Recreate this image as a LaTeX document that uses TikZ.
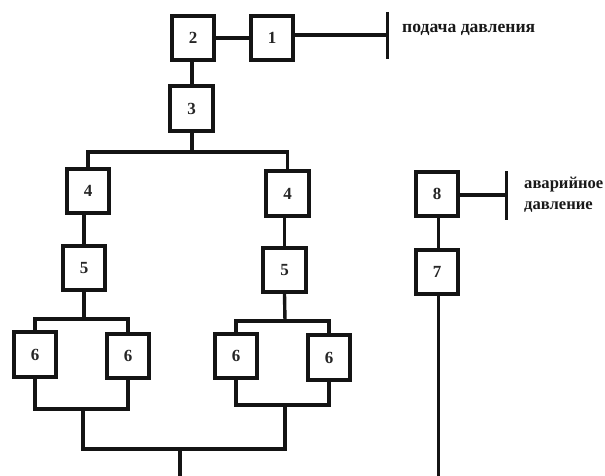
\documentclass[tikz,border=0pt]{standalone}
\usepackage{fontspec}
\setmainfont{Liberation Serif}
\begin{document}
\begin{tikzpicture}[x=1pt,y=-1pt,
  wire/.style={line width=3.4pt,line cap=butt,line join=miter,draw=black!92},
  blk/.style={draw=black!92,line width=3.7pt,fill=white,minimum width=42.5pt,minimum height=44.5pt,inner sep=0pt,font=\bfseries\fontsize{17}{17}\selectfont,text=black!85},
  lbl/.style={text=black!90,anchor=west,inner sep=0pt,align=left}]
\useasboundingbox (0,0) rectangle (605,476);
% blocks
\node[blk] (b2) at (193,38) {2};
\node[blk] (b1) at (272,38) {1};
\node[blk] (b3) at (191.5,108.5) {3};
\node[blk] (l4) at (88,191) {4};
\node[blk] (r4) at (287.5,193.5) {4};
\node[blk] (l5) at (84,268) {5};
\node[blk] (r5) at (284.5,270) {5};
\node[blk] (l6a) at (35,354.5) {6};
\node[blk] (l6b) at (128,356) {6};
\node[blk] (r6a) at (236,356) {6};
\node[blk] (r6b) at (329,357.5) {6};
\node[blk] (b8) at (437,194) {8};
\node[blk] (b7) at (437,272) {7};
% free ends and junctions
\coordinate (pa) at (387.5,12);
\coordinate (pb) at (387.5,59);
\coordinate (pm) at (387.5,35);
\coordinate (qa) at (506.5,171);
\coordinate (qb) at (506.5,220);
\coordinate (qm) at (506.5,195);
\coordinate (j3) at (192,152);
\coordinate (jl) at (84,319);
\coordinate (jr) at (285,321);
\coordinate (kl) at (83,409);
\coordinate (kr) at (285,405);
\coordinate (m) at (180,449);
\coordinate (e1) at (180,476);
\coordinate (e2) at (438.5,476);
% connectors
\draw[wire] (b2.east) -- (b1.west);
\draw[wire] (b1.east |- pm) -- (pm);
\draw[wire] (pa) -- (pb);
\draw[wire] (192,62) -- (192,85);
\draw[wire] (192,132) -- (j3);
\draw[wire] (l4.north) |- (j3) -| (r4.north);
\draw[wire] (l4.south -| l5) -- (l5.north);
\draw[wire] (r4.south -| r5) -- (r5.north);
\draw[wire] (l5.south) -- (jl);
\draw[wire] (r5.south) -- (jr);
\draw[wire] (l6a.north) |- (jl) -| (l6b.north);
\draw[wire] (r6a.north) |- (jr) -| (r6b.north);
\draw[wire] (l6a.south) |- (kl) -| (l6b.south);
\draw[wire] (r6a.south) |- (kr) -| (r6b.south);
\draw[wire] (kl) |- (m) -| (kr);
\draw[wire] (m) -- (e1);
\draw[wire] (b8.east |- qm) -- (qm);
\draw[wire] (qa) -- (qb);
\draw[wire] (438.5,217) -- (438.5,250);
\draw[wire] (438.5,295) -- (e2);
% labels
\node[lbl,font=\bfseries\fontsize{17.6}{20}\selectfont] (t1) at (402,30) {подача давления};
\node[lbl,font=\bfseries\fontsize{16.6}{20.5}\selectfont] (t2) at (524,194.5) {аварийное\\давление};
\end{tikzpicture}
\end{document}
